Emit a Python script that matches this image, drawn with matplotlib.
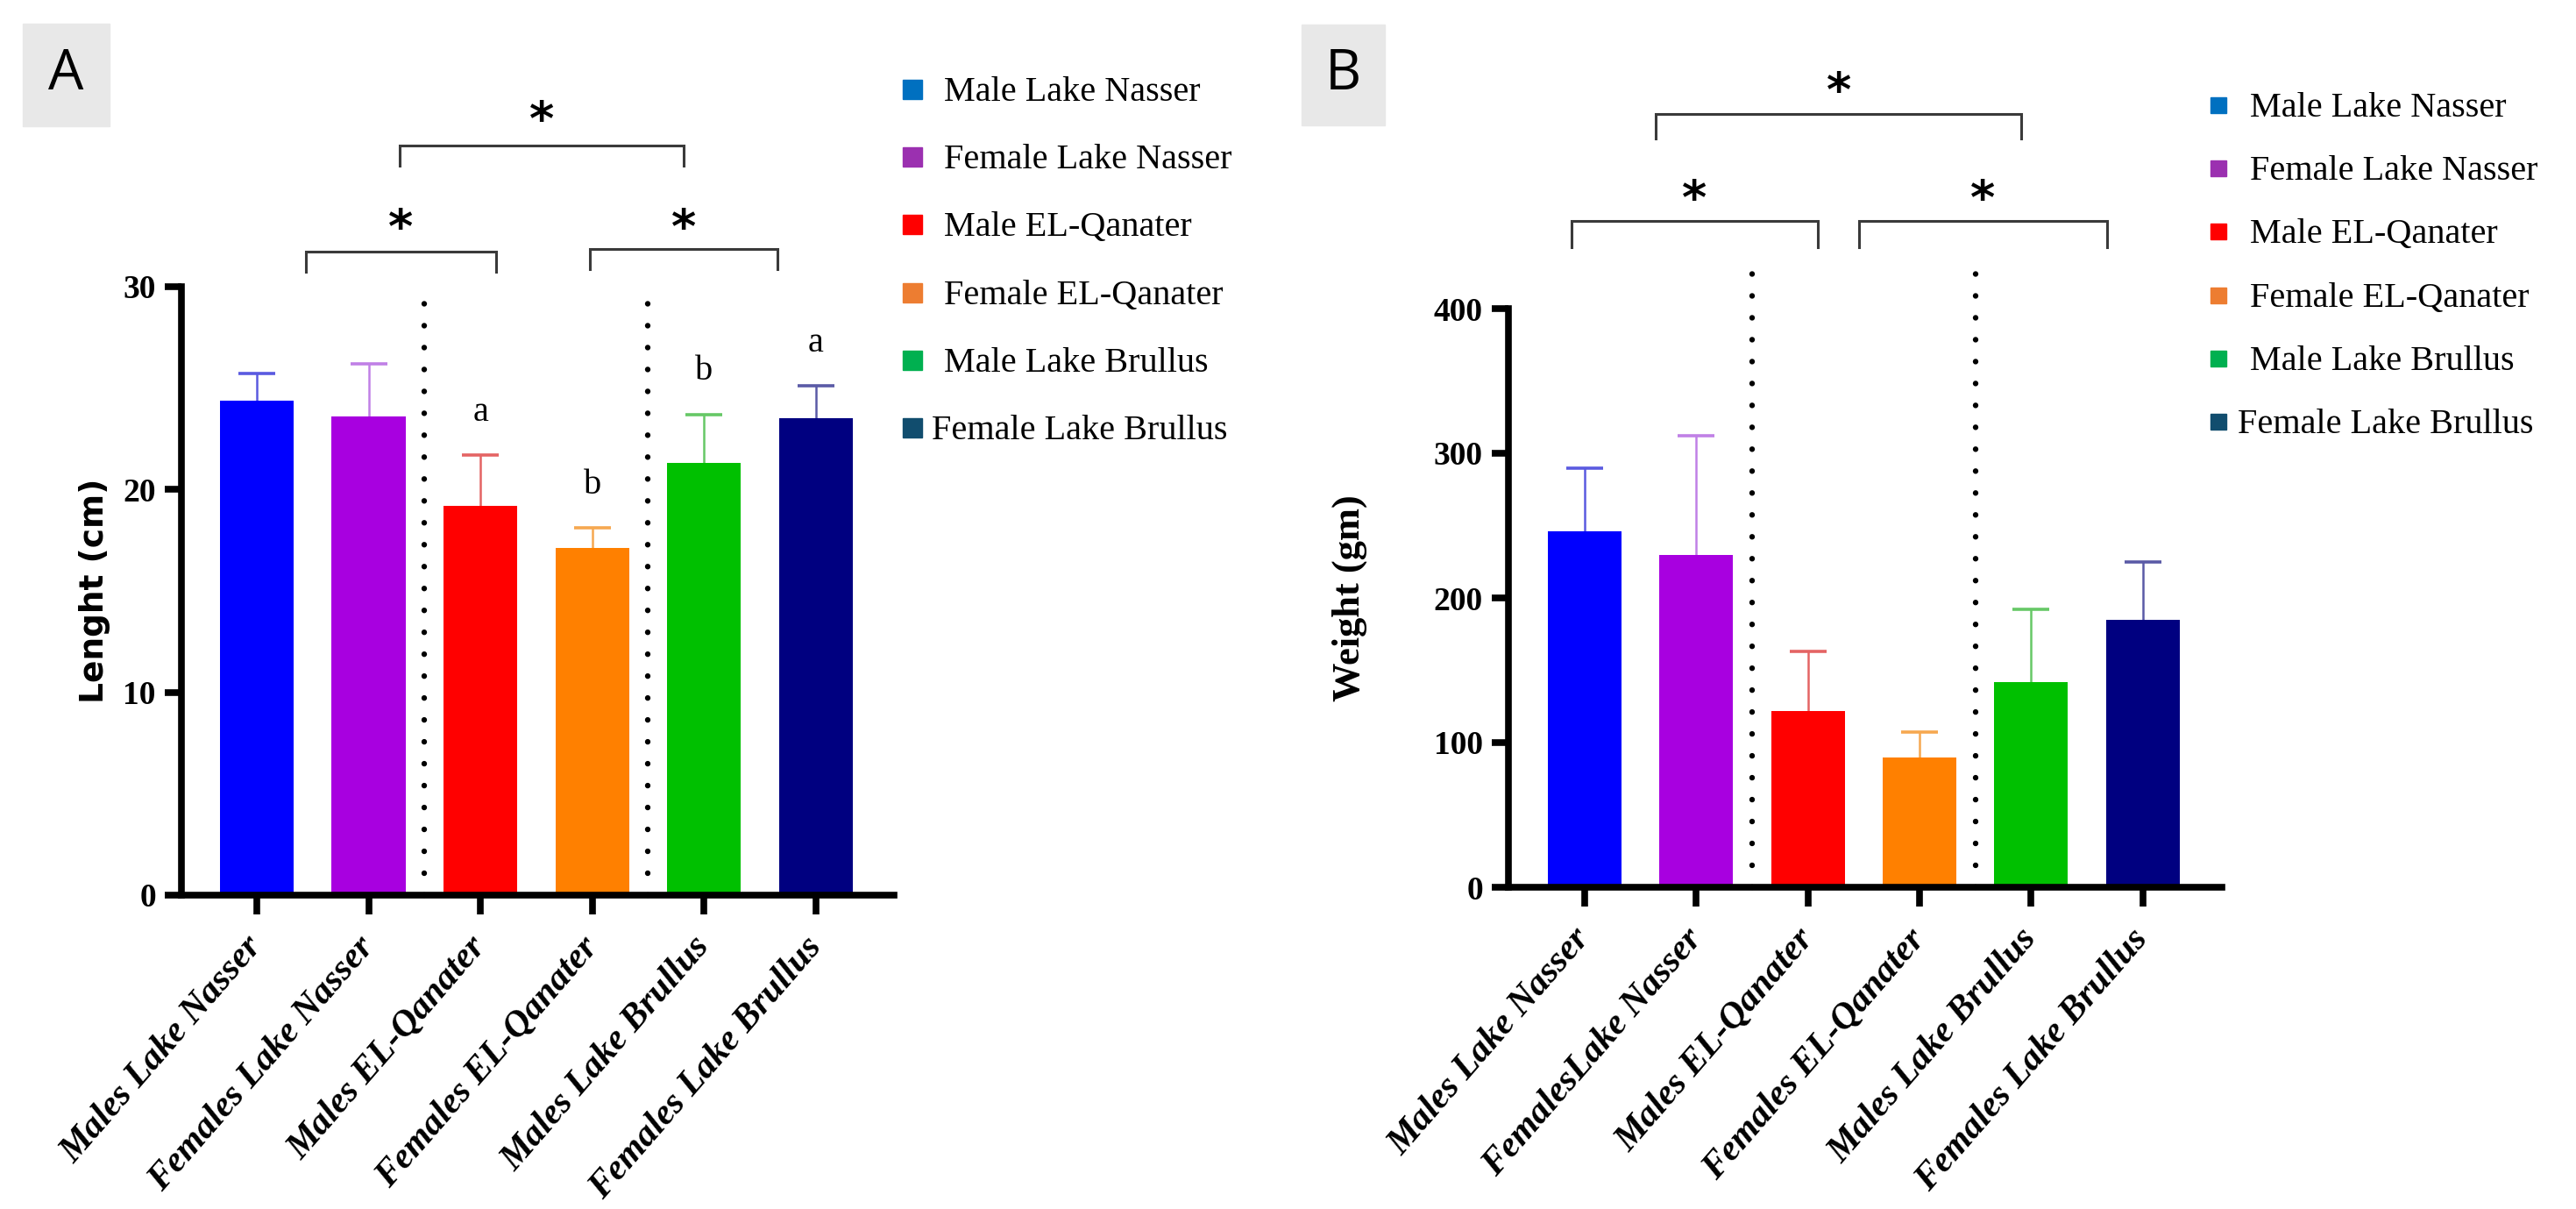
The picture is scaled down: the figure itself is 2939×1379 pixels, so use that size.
import matplotlib
matplotlib.use("Agg")
import matplotlib.pyplot as plt
from matplotlib.patches import Rectangle
from matplotlib.transforms import ScaledTranslation

# group names on the x axis of each panel
groups_a = ["Males Lake Nasser", "Females Lake Nasser", "Males EL-Qanater",
            "Females EL-Qanater", "Males Lake Brullus", "Females Lake Brullus"]
groups_b = ["Males Lake Nasser", "FemalesLake Nasser", "Males EL-Qanater",
            "Females EL-Qanater", "Males Lake Brullus", "Females Lake Brullus"]
legend_labels = ["Male Lake Nasser", "Female Lake Nasser", "Male EL-Qanater",
                 "Female EL-Qanater", "Male Lake Brullus", "Female Lake Brullus"]

# mean and SD
length_mean = [24.4, 23.6, 19.2, 17.1, 21.3, 23.5]
length_err = [1.3, 2.6, 2.5, 1.0, 2.4, 1.6]
length_letters = ["", "", "a", "b", "b", "a"]
weight_mean = [246, 230, 122, 90, 142, 185]
weight_err = [44, 82, 41, 17, 50, 40]

bar_colors = ["#0000ff", "#a800e0", "#ff0000", "#ff8000", "#00c000", "#000080"]
err_colors = ["#5a5ae0", "#c080e6", "#e46464", "#f6a850", "#66c866", "#5a5aa6"]
legend_colors = ["#0070c0", "#9b30b0", "#ff0000", "#ed7d31", "#00b050", "#114d6e"]

W, H = 2939, 1379
fig = plt.figure(figsize=(W / 100, H / 100), dpi=100)


def px_box(x0, y0, x1, y1):
    return [x0 / W, 1 - y1 / H, (x1 - x0) / W, (y1 - y0) / H]


def bracket(ax, x0, x1, y, leg, ystar):
    ax.plot([x0, x0, x1, x1], [y - leg, y, y, y - leg], color="#3a3a3a", lw=2.2,
            clip_on=False, solid_joinstyle="miter")
    ax.annotate("*", ((x0 + x1) / 2, ystar), xytext=(0, -22), textcoords="offset points",
                ha="center", va="baseline", fontsize=39, fontweight="bold",
                fontfamily="DejaVu Sans", annotation_clip=False)


def draw_panel(ax, labels, means, errs, ymax, yticks, div_top):
    x = list(range(len(means)))
    ax.bar(x, means, width=0.66, color=bar_colors, zorder=2)
    for i in x:
        eb = ax.errorbar(i, means[i], yerr=[[0], [errs[i]]], fmt="none", ecolor=err_colors[i],
                         elinewidth=1.8, capsize=15, capthick=2.6, zorder=1)
        # only the upper cap, as in Prism "mean + SD"
        for cap in eb[1]:
            if abs(cap.get_ydata()[0] - means[i]) < 1e-9:
                cap.set_visible(False)
    for xd in (1.5, 3.5):
        ax.plot([xd, xd], [0, div_top], color="black", lw=4.6, clip_on=False,
                linestyle=(0, (0.01, 3.9)), dash_capstyle="round", zorder=3)
    ax.set_ylim(0, ymax)
    ax.set_yticks(yticks)
    ax.set_xticks(x)
    ax.set_xticklabels(labels, rotation=49, ha="right", va="center", rotation_mode="anchor",
                       fontfamily="Liberation Serif", fontweight="bold", fontstyle="italic",
                       fontsize=30)
    for lab in ax.get_yticklabels():
        lab.set_fontfamily("Liberation Serif")
        lab.set_fontweight("bold")
        lab.set_fontsize(27)
    shift = ScaledTranslation(12 / 100, 0, fig.dpi_scale_trans)
    for lab in ax.get_xticklabels():
        lab.set_transform(lab.get_transform() + shift)
    for s in ("top", "right"):
        ax.spines[s].set_visible(False)
    for s in ("left", "bottom"):
        ax.spines[s].set_linewidth(5.5)
    ax.tick_params(axis="y", length=14, width=5.5, pad=7)
    ax.tick_params(axis="x", length=16, width=5.5, pad=22)


def draw_legend(x_sq, x_txt, y0, step, sq):
    for i, (lab, col) in enumerate(zip(legend_labels, legend_colors)):
        y = y0 + step * i
        fig.add_artist(Rectangle((x_sq / W, 1 - (y + sq / 2) / H), sq / W, sq / H,
                                 transform=fig.transFigure, color=col))
        xt = x_txt - 14 if i == len(legend_labels) - 1 else x_txt
        fig.text(xt / W, 1 - (y + 13) / H, lab, ha="left", va="baseline",
                 fontfamily="Liberation Serif", fontsize=29)


def panel_tag(x0, y0, x1, y1, letter):
    fig.add_artist(Rectangle((x0 / W, 1 - y1 / H), (x1 - x0) / W, (y1 - y0) / H,
                             transform=fig.transFigure, color="#e8e8e8"))
    fig.text((x0 + x1) / 2 / W, 1 - (y0 + y1) / 2 / H, letter, ha="center", va="center",
             fontfamily="Open Sans", fontsize=46)


# ---- panel A: length
ax_a = fig.add_axes(px_box(207, 327, 1020, 1021))
ax_a.set_xlim(-0.674, 5.70)
draw_panel(ax_a, groups_a, length_mean, length_err, 30, [0, 10, 20, 30], 30)
for i, t in enumerate(length_letters):
    if t:
        ax_a.text(i, length_mean[i] + length_err[i] + 1.7, t, ha="center", va="baseline",
                  fontfamily="Liberation Serif", fontsize=29)
ax_a.set_ylabel("Lenght (cm)", fontfamily="DejaVu Sans", fontweight="bold", fontsize=27)
ax_a.yaxis.label.set_va("center")
ax_a.yaxis.set_label_coords(-0.1218, 0.5)
bracket(ax_a, 1.28, 3.82, 36.97, 1.0, 38.8)
bracket(ax_a, 0.44, 2.14, 31.73, 1.0, 33.5)
bracket(ax_a, 2.98, 4.66, 31.86, 1.0, 33.5)

# ---- panel B: weight
ax_b = fig.add_axes(px_box(1721, 352, 2535, 1012))
ax_b.set_xlim(-0.683, 5.71)
draw_panel(ax_b, groups_b, weight_mean, weight_err, 400, [0, 100, 200, 300, 400], 431)
ax_b.set_ylabel("Weight (gm)", fontfamily="Liberation Serif", fontweight="bold", fontsize=32)
ax_b.yaxis.label.set_va("center")
ax_b.yaxis.set_label_coords(-0.2224, 0.5)
bracket(ax_b, 0.64, 3.91, 534.5, 17, 558.8)
bracket(ax_b, -0.12, 2.09, 460.6, 18, 484)
bracket(ax_b, 2.46, 4.68, 460.6, 18, 484)

draw_legend(1030, 1077, 102, 77.2, 22)
draw_legend(2522, 2567, 120, 72.2, 18)
panel_tag(26, 27, 125, 144, "A")
panel_tag(1485, 28, 1580, 143, "B")

fig.savefig("out.png", dpi=100, facecolor="white")
